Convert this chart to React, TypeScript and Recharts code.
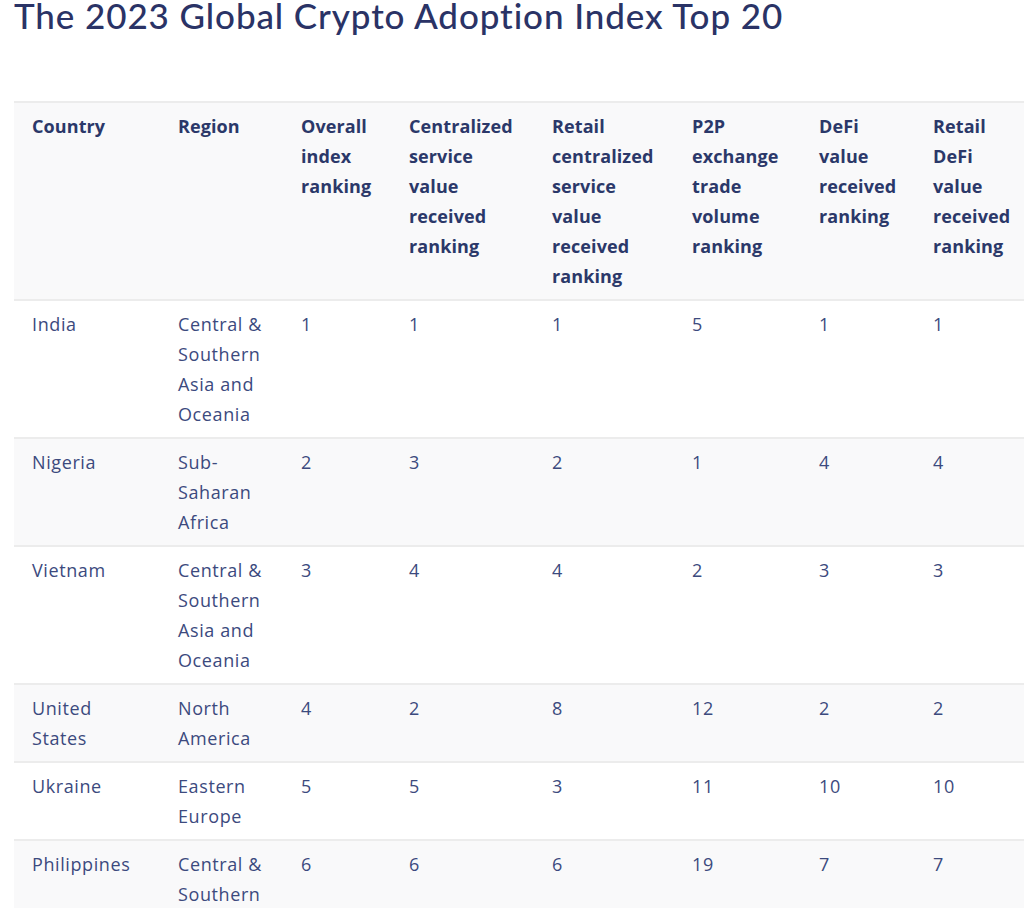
import React from "react";
import { Surface, Layer, Rectangle, Text } from "recharts";

const TITLE = "The 2023 Global Crypto Adoption Index Top 20";

const HEADERS = [
  "Country",
  "Region",
  "Overall\nindex\nranking",
  "Centralized\nservice\nvalue\nreceived\nranking",
  "Retail\ncentralized\nservice\nvalue\nreceived\nranking",
  "P2P\nexchange\ntrade\nvolume\nranking",
  "DeFi\nvalue\nreceived\nranking",
  "Retail\nDeFi\nvalue\nreceived\nranking",
];

const COUNTRIES = ["India", "Nigeria", "Vietnam", "United\nStates", "Ukraine", "Philippines"];
const REGIONS = [
  "Central &\nSouthern\nAsia and\nOceania",
  "Sub-\nSaharan\nAfrica",
  "Central &\nSouthern\nAsia and\nOceania",
  "North\nAmerica",
  "Eastern\nEurope",
  "Central &\nSouthern\nAsia and\nOceania",
];
const OVERALL_RANK = [1, 2, 3, 4, 5, 6];
const CENTRALIZED_RANK = [1, 3, 4, 2, 5, 6];
const RETAIL_CENTRALIZED_RANK = [1, 2, 4, 8, 3, 6];
const P2P_RANK = [5, 1, 2, 12, 11, 19];
const DEFI_RANK = [1, 4, 3, 2, 10, 7];
const RETAIL_DEFI_RANK = [1, 4, 3, 2, 10, 7];

const W = 1024;
const H = 908;
const TABLE_LEFT = 14;
const TABLE_TOP = 101;
const COL_X = [32, 178, 301, 409, 552, 692, 819, 933];
const LINE_H = 30;
const PAD = 18;
const FONT = "'Open Sans', 'Noto Sans', sans-serif";

function Cell({ x, y, text, bold }: { x: number; y: number; text: string; bold: boolean }) {
  const lines = text.split("\n");
  return (
    <>
      {lines.map((ln, k) => (
        <Text
          key={k}
          x={x}
          y={y + k * LINE_H}
          verticalAnchor="middle"
          textAnchor="start"
          fill={bold ? "#2b3869" : "#3c4a7e"}
          style={{
            fontFamily: FONT,
            fontSize: 18,
            fontWeight: bold ? 700 : 400,
            letterSpacing: bold ? 0.1 : 0.6,
          }}
        >
          {ln}
        </Text>
      ))}
    </>
  );
}

export default function App() {
  const body = COUNTRIES.map((c, i) => [
    c,
    REGIONS[i],
    String(OVERALL_RANK[i]),
    String(CENTRALIZED_RANK[i]),
    String(RETAIL_CENTRALIZED_RANK[i]),
    String(P2P_RANK[i]),
    String(DEFI_RANK[i]),
    String(RETAIL_DEFI_RANK[i]),
  ]);
  const rows = [HEADERS, ...body];
  let y = TABLE_TOP;
  const layout = rows.map((r, i) => {
    const n = Math.max(...r.map((s) => s.split("\n").length));
    const h = n * LINE_H + PAD;
    const item = { r, top: y, h, header: i === 0, shaded: i % 2 === 0 };
    y += h;
    return item;
  });

  return (
    <div style={{ position: "absolute", left: 0, top: 0, width: W, height: H, background: "#fff" }}>
      <Surface width={W} height={H}>
        <Text
          x={14}
          y={29}
          fill="#2a3366"
          style={{ fontFamily: "Lato, sans-serif", fontSize: 35, fontWeight: 500, letterSpacing: 0.9 }}
        >
          {TITLE}
        </Text>
        {layout.map((row, i) => (
          <Layer key={i}>
            <Rectangle
              x={TABLE_LEFT}
              y={row.top}
              width={W - TABLE_LEFT}
              height={row.h}
              fill={row.shaded ? "#f9f9fa" : "#ffffff"}
            />
            <Rectangle x={TABLE_LEFT} y={row.top} width={W - TABLE_LEFT} height={2} fill="#ececec" />
            {row.r.map((txt, j) => (
              <Cell key={j} x={COL_X[j]} y={row.top + 26} text={txt} bold={row.header} />
            ))}
          </Layer>
        ))}
      </Surface>
    </div>
  );
}
